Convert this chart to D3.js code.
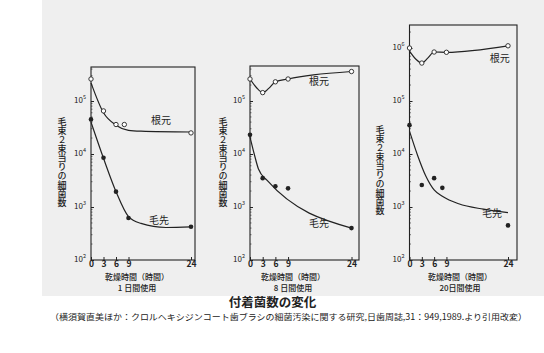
<!DOCTYPE html>
<html><head><meta charset="utf-8">
<script src="https://cdn.jsdelivr.net/npm/d3@7"></script>
<style>
html,body{margin:0;padding:0;background:#fff;}
svg{display:block;}
text{font-family:"Noto Sans CJK JP","Noto Sans",sans-serif;fill:#222;}
</style></head>
<body>
<svg id="chart" width="544" height="353"></svg>
<script>
// ---- data ----
const xTicks = [0, 3, 6, 9, 24];
const yLabel = "毛束２束当りの細菌数";
const xLabel = "乾燥時間（時間）";
const panelNames = ["1 日間使用", "8 日間使用", "20日間使用"];
const seriesNames = ["根元", "毛先"];
const title = "付着菌数の変化";
const citation = "（横須賀直美ほか：クロルヘキシジンコート歯ブラシの細菌汚染に関する研究,日歯周誌,31：949,1989.より引用改変）";

// panel 1 (1日間使用)
const p1RootT = [0, 3, 6, 8, 24];
const p1RootV = [2.6e5, 6.5e4, 3.6e4, 3.6e4, 2.5e4];
const p1TipT = [0, 3, 6, 9, 24];
const p1TipV = [4.5e4, 8.5e3, 1.95e3, 620, 425];
const p1RootFitT = [0, 3, 6, 9, 12, 24];
const p1RootFitV = [2.2e5, 6.0e4, 3.5e4, 2.8e4, 2.7e4, 2.6e4];
const p1TipFitT = [0, 3, 6, 9, 12, 18, 24];
const p1TipFitV = [4.0e4, 8.3e3, 1.95e3, 660, 490, 410, 420];

// panel 2 (8日間使用)
const p2RootT = [0, 3, 6, 9, 24];
const p2RootV = [2.6e5, 1.44e5, 2.3e5, 2.6e5, 3.6e5];
const p2TipT = [0, 3, 6, 9, 24];
const p2TipV = [2.3e4, 3.5e3, 2.45e3, 2.25e3, 400];
const p2RootFitT = [0, 1.5, 3, 4.5, 6, 9, 15, 24];
const p2RootFitV = [2.6e5, 1.8e5, 1.44e5, 1.75e5, 2.3e5, 2.6e5, 3.1e5, 3.6e5];
const p2TipFitT = [0, 1, 2, 4, 24];
const p2TipFitV = [2.1e4, 1.0e4, 5.2e3, 3.2e3, 400];

// panel 3 (20日間使用)
const p3RootT = [0, 3, 6, 9, 24];
const p3RootV = [1.0e6, 5.2e5, 8.4e5, 8.3e5, 1.1e6];
const p3TipT = [0, 3, 6, 8, 24];
const p3TipV = [3.5e4, 2.6e3, 3.5e3, 2.3e3, 450];
const p3RootFitT = [0, 1.5, 3, 4.5, 6, 9, 24];
const p3RootFitV = [8.7e5, 6.2e5, 5.2e5, 6.5e5, 8.4e5, 8.3e5, 1.1e6];
const p3TipFitT = [0, 2, 4, 6, 8, 12, 18, 24];
const p3TipFitV = [2.7e4, 9.3e3, 3.8e3, 2.1e3, 1.6e3, 1.15e3, 910, 780];

// series label anchors (data coords: hours, value)
const p1LabelPos = [[16.8, 4.4e4], [16.3, 560]];
const p2LabelPos = [[16.3, 2.35e5], [16.3, 500]];
const p3LabelPos = [[22, 6.5e5], [20.1, 780]];

// ---- layout ----
const panels = [
  {x0: 91, x24: 191, right: 195, top: 67, name: panelNames[0],
   root: [p1RootT, p1RootV], tip: [p1TipT, p1TipV], rootFit: [p1RootFitT, p1RootFitV], tipFit: [p1TipFitT, p1TipFitV],
   labels: p1LabelPos, yLabX: 62, yLabY: 162, xLabCx: 137},
  {x0: 250, x24: 351.5, right: 359, top: 66, name: panelNames[1],
   root: [p2RootT, p2RootV], tip: [p2TipT, p2TipV], rootFit: [p2RootFitT, p2RootFitV], tipFit: [p2TipFitT, p2TipFitV],
   labels: p2LabelPos, yLabX: 223, yLabY: 162, xLabCx: 293},
  {x0: 409.5, x24: 508, right: 517, top: 25, name: panelNames[2],
   root: [p3RootT, p3RootV], tip: [p3TipT, p3TipV], rootFit: [p3RootFitT, p3RootFitV], tipFit: [p3TipFitT, p3TipFitV],
   labels: p3LabelPos, yLabX: 380, yLabY: 170, xLabCx: 460}
];
const bottom = 260, decadePx = 53;

const svg = d3.select("#chart");
svg.append("rect").attr("x", 42).attr("y", 0).attr("width", 502).attr("height", 296).attr("fill", "#efefef");

const ink = "#222";
const zip = (a, b) => a.map((d, i) => [d, b[i]]);

panels.forEach(p => {
  const pxPerH = (p.x24 - p.x0) / 24;
  const xMax = (p.right - p.x0) / pxPerH;
  const x = d3.scaleLinear().domain([0, xMax]).range([p.x0, p.right]);
  const yMaxExp = 2 + (bottom - p.top) / decadePx;
  const y = d3.scaleLog().domain([1e2, Math.pow(10, yMaxExp)]).range([bottom, p.top]);
  const g = svg.append("g");

  // box
  g.append("rect").attr("x", p.x0).attr("y", p.top).attr("width", p.right - p.x0).attr("height", bottom - p.top)
    .attr("fill", "none").attr("stroke", ink).attr("stroke-width", 1.1);

  // x axis ticks (inward) and labels
  const xa = d3.axisBottom(x).tickValues(xTicks).tickSize(-3).tickPadding(1).tickFormat(d3.format("d"));
  const gx = g.append("g").attr("transform", `translate(0,${bottom})`).call(xa);
  gx.select(".domain").remove();
  gx.selectAll("line").attr("stroke", ink);
  gx.selectAll("text").attr("font-size", 8.5).attr("font-weight", 700).attr("fill", ink)
    .attr("font-family", "'DejaVu Sans',sans-serif");

  // y axis: decade ticks inward
  const decades = d3.range(2, Math.floor(yMaxExp + 1e-9) + 1).map(e => Math.pow(10, e));
  const ya = d3.axisLeft(y).tickValues(decades).tickSize(-3).tickFormat("");
  const gy = g.append("g").attr("transform", `translate(${p.x0},0)`).call(ya);
  gy.select(".domain").remove();
  gy.selectAll("line").attr("stroke", ink);
  const minor = [];
  decades.forEach(d => [2,3,4,5,6,7,8,9].forEach(m => { if (d * m < y.domain()[1]) minor.push(d * m); }));
  g.selectAll(".minor").data(minor).join("line")
    .attr("x1", p.x0).attr("x2", p.x0 + 1.5).attr("y1", d => y(d)).attr("y2", d => y(d))
    .attr("stroke", ink).attr("stroke-width", 0.6);
  decades.forEach(d => {
    const t = g.append("text").attr("x", p.x0 - 5).attr("y", y(d) + 2).attr("text-anchor", "end")
      .attr("font-size", 8).attr("font-family", "'DejaVu Sans',sans-serif").attr("fill", ink);
    t.append("tspan").text("10");
    t.append("tspan").attr("font-size", 5.5).attr("dy", -4).text(Math.round(Math.log10(d)));
  });

  // fitted curves
  const line = d3.line().x(d => x(d[0])).y(d => y(d[1])).curve(d3.curveMonotoneX);
  [p.rootFit, p.tipFit].forEach(f => {
    g.append("path").attr("d", line(zip(f[0], f[1]))).attr("fill", "none").attr("stroke", ink).attr("stroke-width", 1.2);
  });

  // points
  g.selectAll(".root").data(zip(p.root[0], p.root[1])).join("circle")
    .attr("cx", d => x(d[0])).attr("cy", d => y(d[1])).attr("r", 2.2)
    .attr("fill", "#fff").attr("stroke", ink).attr("stroke-width", 0.9);
  g.selectAll(".tip").data(zip(p.tip[0], p.tip[1])).join("circle")
    .attr("cx", d => x(d[0])).attr("cy", d => y(d[1])).attr("r", 2.3).attr("fill", ink);

  // series labels
  p.labels.forEach((lp, i) => {
    g.append("text").attr("x", x(lp[0])).attr("y", y(lp[1]) + 4).attr("text-anchor", "middle")
      .attr("font-size", 10).text(seriesNames[i]);
  });

  // y label (vertical)
  g.append("text").attr("x", p.yLabX).attr("y", p.yLabY).attr("text-anchor", "middle")
    .attr("font-size", 9).style("writing-mode", "vertical-rl").style("text-orientation", "upright")
    .attr("font-weight", 500).text(yLabel);

  // x label + subtitle
  g.append("text").attr("x", p.xLabCx).attr("y", 279.5).attr("text-anchor", "middle").attr("font-size", 8).attr("font-weight", 500).text(xLabel);
  g.append("text").attr("x", p.xLabCx).attr("y", 290.5).attr("text-anchor", "middle").attr("font-size", 8).attr("font-weight", 500).text(p.name);
});

svg.append("text").attr("x", 272.5).attr("y", 307).attr("text-anchor", "middle")
  .attr("font-size", 12.5).attr("font-weight", 700).attr("fill", "#111").text(title);
svg.append("text").attr("x", 50).attr("y", 320).attr("font-size", 8.5)
  .attr("textLength", 477).attr("lengthAdjust", "spacingAndGlyphs").attr("fill", "#333").text(citation);
</script>
</body></html>
